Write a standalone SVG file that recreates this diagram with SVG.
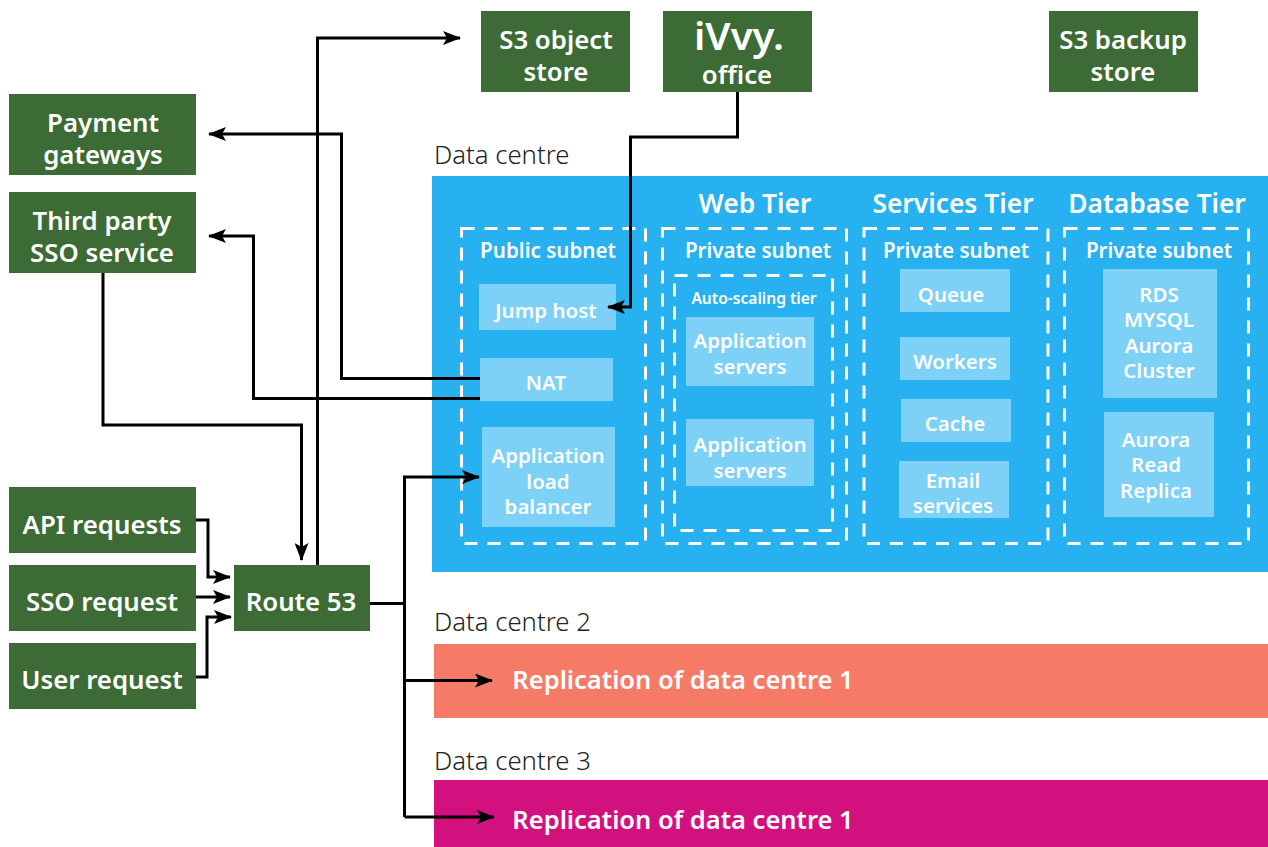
<svg xmlns="http://www.w3.org/2000/svg" width="1268" height="847" viewBox="0 0 1268 847">
<style>
text{font-family:"Noto Sans","Open Sans",sans-serif;text-anchor:middle}
.g{fill:#3d6b35}.b{fill:#7dd0f6}
.gt{fill:#fff;font-size:25.800px;font-weight:600}
.t{fill:#fff;font-size:20.500px;font-weight:600}
.h{fill:#fff;font-size:26.400px;font-weight:600}
.s{fill:#fff;font-size:20.600px;font-weight:600}
.dc{fill:#222;font-size:25.700px;font-weight:300;text-anchor:start}
.r{fill:#fff;font-size:25.500px;font-weight:600}
.d{fill:none;stroke:#fff;stroke-width:3;stroke-dasharray:13 10}
.c{fill:none;stroke:#000;stroke-width:3}
</style>
<defs><marker id="a" markerUnits="userSpaceOnUse" markerWidth="18" markerHeight="14" refX="17" refY="7" orient="auto"><path d="M0 0L18 7L0 14L4 7Z" fill="#000"/></marker></defs>
<rect id="dc1" x="432" y="176" width="836" height="396" fill="#27b1f0"/>
<rect id="dc2" x="434" y="644" width="834" height="74" fill="#f57b67"/>
<rect id="dc3" x="434" y="780" width="834" height="67" fill="#d3117e"/>
<text class="dc" x="434" y="164">Data centre</text>
<text class="dc" x="434" y="631">Data centre 2</text>
<text class="dc" x="434" y="770">Data centre 3</text>
<text class="r" x="683" y="689">Replication of data centre 1</text>
<text class="r" x="683" y="829">Replication of data centre 1</text>
<text class="h" x="755" y="213">Web Tier</text>
<text class="h" x="953" y="213">Services Tier</text>
<text class="h" x="1157" y="213">Database Tier</text>
<rect class="d" x="461.500" y="228.500" width="184" height="315"/>
<rect class="d" x="662.500" y="228.500" width="184" height="315"/>
<rect class="d" x="674.500" y="275.500" width="158" height="255"/>
<rect class="d" x="864" y="228.500" width="184" height="315"/>
<rect class="d" x="1064.500" y="228.500" width="184" height="315"/>
<text class="s" x="548" y="258">Public subnet</text>
<text class="s" x="758" y="258">Private subnet</text>
<text class="s" x="956" y="258">Private subnet</text>
<text class="s" x="1159" y="258">Private subnet</text>
<text class="s" x="754" y="304" style="font-size:15.600px">Auto-scaling tier</text>
<g id="jump"><rect class="b" x="479" y="284" width="137" height="46"/><text class="t" x="546" y="318">Jump host</text></g>
<g id="nat"><rect class="b" x="480" y="358" width="133" height="43"/><text class="t" x="546" y="390">NAT</text></g>
<g id="alb"><rect class="b" x="482" y="427" width="133" height="100"/><text class="t" x="548" y="463">Application</text><text class="t" x="548" y="489">load</text><text class="t" x="548" y="514">balancer</text></g>
<g id="app1"><rect class="b" x="686" y="317" width="128" height="69"/><text class="t" x="750" y="348">Application</text><text class="t" x="750" y="374">servers</text></g>
<g id="app2"><rect class="b" x="686" y="419" width="128" height="67"/><text class="t" x="750" y="452">Application</text><text class="t" x="750" y="478">servers</text></g>
<g id="queue"><rect class="b" x="900" y="269" width="110" height="43"/><text class="t" x="951" y="302">Queue</text></g>
<g id="workers"><rect class="b" x="900" y="337" width="110" height="43"/><text class="t" x="955" y="369">Workers</text></g>
<g id="cache"><rect class="b" x="901" y="399" width="110" height="43"/><text class="t" x="955" y="431">Cache</text></g>
<g id="email"><rect class="b" x="899" y="461" width="110" height="57"/><text class="t" x="953" y="488">Email</text><text class="t" x="953" y="513">services</text></g>
<g id="rds"><rect class="b" x="1103" y="269" width="114" height="129"/><text class="t" x="1159" y="302">RDS</text><text class="t" x="1159" y="327">MYSQL</text><text class="t" x="1159" y="353">Aurora</text><text class="t" x="1159" y="378">Cluster</text></g>
<g id="replica"><rect class="b" x="1104" y="412" width="110" height="105"/><text class="t" x="1156" y="447">Aurora</text><text class="t" x="1156" y="472">Read</text><text class="t" x="1156" y="498">Replica</text></g>
<g id="s3obj"><rect class="g" x="481" y="11" width="149" height="81"/><text class="gt" x="556" y="49">S3 object</text><text class="gt" x="556" y="81">store</text></g>
<g id="ivvy"><rect class="g" x="663" y="11" width="149" height="81"/><text class="gt" x="739" y="50" style="font-size:38px" textLength="90" lengthAdjust="spacingAndGlyphs">iVvy.</text><text class="gt" x="737" y="84">office</text></g>
<g id="s3bak"><rect class="g" x="1049" y="11" width="149" height="81"/><text class="gt" x="1123" y="49">S3 backup</text><text class="gt" x="1123" y="81">store</text></g>
<g id="pay"><rect class="g" x="9" y="94" width="187" height="81"/><text class="gt" x="103" y="132">Payment</text><text class="gt" x="103" y="164">gateways</text></g>
<g id="sso3"><rect class="g" x="9" y="192" width="187" height="81"/><text class="gt" x="102" y="230">Third party</text><text class="gt" x="102" y="262">SSO service</text></g>
<g id="api"><rect class="g" x="9" y="487" width="187" height="66"/><text class="gt" x="102" y="534">API requests</text></g>
<g id="ssor"><rect class="g" x="9" y="565" width="187" height="66"/><text class="gt" x="102" y="611">SSO request</text></g>
<g id="user"><rect class="g" x="9" y="643" width="187" height="66"/><text class="gt" x="102" y="689">User request</text></g>
<g id="r53"><rect class="g" x="234" y="565" width="136" height="66"/><text class="gt" x="301" y="611">Route 53</text></g>
<g id="connectors">
<path class="c" marker-end="url(#a)" d="M317.500 565V38H460"/>
<path class="c" marker-end="url(#a)" d="M480 378.500H341.500V134H209"/>
<path class="c" marker-end="url(#a)" d="M480 398.500H253.500V236H209"/>
<path class="c" marker-end="url(#a)" d="M103 273V425H301.500V560"/>
<path class="c" marker-end="url(#a)" d="M196 520H208V577H230"/>
<path class="c" marker-end="url(#a)" d="M196 597H230"/>
<path class="c" marker-end="url(#a)" d="M196 677H207V617H231"/>
<path class="c" d="M370 603.500H404.500"/>
<path class="c" marker-end="url(#a)" d="M404.500 817V477H479"/>
<path class="c" marker-end="url(#a)" d="M404.500 680.500H492"/>
<path class="c" marker-end="url(#a)" d="M404.500 817H494"/>
<path class="c" marker-end="url(#a)" d="M737.500 92V137H630.500V307H608"/>
</g>
</svg>
